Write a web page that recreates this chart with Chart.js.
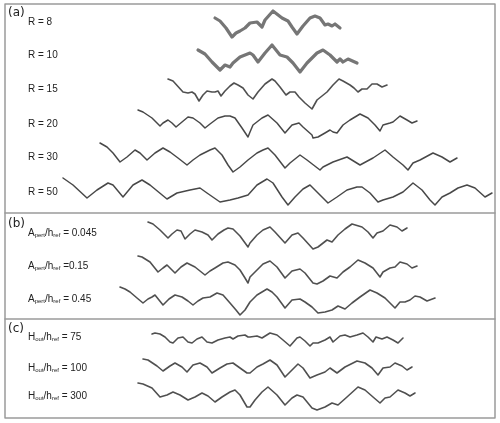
<!DOCTYPE html>
<html>
<head>
<meta charset="utf-8">
<script src="https://cdn.jsdelivr.net/npm/chart.js@4.4.1/dist/chart.umd.min.js"></script>
<style>
html,body{margin:0;padding:0;background:#fff;}
#wrap{width:500px;height:423px;position:relative;}
</style>
</head>
<body>
<div id="wrap"><canvas id="c"></canvas></div>
<script>
// ---- Profiles (x, y) in figure data space ----
const R8 = [[215,18],[220,21],[226,28],[232,37],[236,33],[240,31],[245,28],[250,23],[257,22],[262,27],[265,20],[273,11],[282,18],[288,21],[292,27],[297,34],[303,26],[310,18],[315,16],[320,18],[325,25],[328,24],[332,26],[335,24],[340,28]];
const R10 = [[198,50],[205,54],[212,62],[220,70],[225,65],[230,67],[233,63],[240,57],[250,53],[253,55],[258,62],[265,53],[272,45],[280,55],[287,57],[293,63],[300,72],[307,63],[317,53],[323,50],[330,55],[337,62],[340,59],[343,62],[348,59],[357,63]];
const R15 = [[168,79],[173,81],[183,92],[188,93],[192,92],[195,94],[199,101],[203,95],[207,91],[212,92],[215,92],[218,91],[221,96],[225,91],[230,86],[234,83],[238,85],[243,88],[248,95],[253,99],[258,92],[265,84],[272,79],[275,81],[280,87],[286,95],[290,92],[295,92],[299,97],[305,103],[312,109],[317,100],[322,96],[327,92],[333,85],[339,79],[343,81],[350,85],[354,88],[358,92],[362,89],[367,89],[372,84],[377,84],[382,87],[387,85]];
const R20 = [[138,110],[143,112],[152,118],[160,126],[163,123],[168,120],[172,123],[176,127],[182,122],[188,117],[193,118],[200,123],[205,128],[210,124],[218,118],[225,116],[230,116],[235,118],[242,128],[248,137],[250,132],[253,125],[262,118],[268,115],[277,123],[285,133],[292,125],[299,123],[303,127],[312,135],[313,138],[318,137],[325,133],[330,130],[333,132],[337,133],[343,125],[350,120],[360,114],[368,118],[375,125],[380,131],[383,125],[390,123],[393,122],[400,116],[407,120],[412,123],[417,121]];
const R30 = [[100,143],[107,147],[113,153],[120,162],[127,157],[135,150],[140,153],[147,160],[155,153],[163,148],[170,152],[178,158],[187,165],[193,160],[200,155],[210,150],[215,148],[222,155],[228,165],[233,172],[240,167],[248,160],[257,153],[263,150],[268,148],[275,155],[285,168],[290,163],[300,155],[307,160],[320,170],[323,167],[333,162],[347,157],[360,165],[373,158],[385,150],[393,157],[403,165],[408,170],[413,163],[420,160],[433,153],[442,157],[450,162],[457,158]];
const R50 = [[63,178],[73,185],[87,198],[97,190],[108,183],[113,185],[123,197],[133,185],[142,180],[150,185],[167,199],[177,193],[190,190],[200,188],[207,193],[220,202],[230,200],[238,198],[248,195],[257,185],[267,179],[273,183],[282,197],[288,205],[295,197],[303,189],[310,185],[318,193],[328,203],[337,197],[347,190],[357,187],[362,187],[370,193],[378,202],[383,200],[393,197],[403,192],[413,183],[422,190],[430,200],[435,205],[442,197],[450,193],[458,188],[467,185],[475,188],[485,197],[492,193]];
const B045 = [[148,222],[153,224],[160,230],[168,238],[172,234],[177,230],[181,231],[185,239],[190,234],[195,230],[202,232],[208,235],[212,240],[218,234],[224,230],[228,228],[233,229],[240,236],[248,247],[250,243],[257,235],[263,230],[270,227],[275,232],[285,243],[292,235],[298,233],[303,238],[313,249],[318,247],[327,240],[332,242],[338,235],[345,229],[352,224],[362,227],[368,232],[373,238],[377,233],[383,231],[390,225],[397,227],[402,231],[407,228]];
const B015 = [[138,256],[142,257],[150,262],[158,272],[163,268],[167,265],[171,269],[175,273],[181,267],[187,263],[195,267],[200,271],[205,275],[210,271],[215,268],[223,263],[228,262],[235,265],[240,270],[245,278],[248,283],[250,277],[257,270],[263,264],[270,261],[277,267],[285,278],[292,271],[300,269],[305,273],[313,283],[317,284],[323,281],[330,276],[337,278],[343,272],[350,267],[358,260],[365,263],[373,268],[380,277],[383,272],[390,268],[395,267],[400,262],[407,264],[412,268],[417,266]];
const B045b = [[120,287],[125,289],[130,292],[137,298],[143,303],[148,299],[152,297],[155,295],[159,300],[163,305],[169,299],[175,295],[182,297],[188,301],[193,305],[198,301],[203,298],[210,297],[217,293],[223,295],[230,303],[236,310],[240,315],[245,310],[250,302],[257,295],[267,289],[272,292],[277,297],[285,308],[292,300],[300,299],[305,302],[312,307],[318,313],[325,312],[332,310],[338,306],[345,309],[352,303],[360,297],[370,290],[377,293],[385,298],[390,303],[395,308],[400,302],[405,302],[410,300],[415,296],[420,297],[427,301],[435,298]];
const H75 = [[152,334],[155,333],[160,334],[165,337],[170,342],[173,343],[178,338],[183,337],[188,342],[192,343],[197,339],[202,337],[207,342],[212,343],[218,340],[225,338],[230,337],[233,339],[238,336],[245,335],[248,337],[250,337],[257,336],[262,338],[270,333],[277,335],[283,340],[290,346],[297,338],[300,337],[305,341],[310,346],[313,343],[318,343],[325,340],[330,337],[333,342],[340,336],[345,335],[350,337],[357,335],[363,333],[368,337],[373,342],[376,337],[382,339],[387,337],[393,340],[398,343],[403,338]];
const H100 = [[143,359],[148,360],[157,366],[163,371],[170,366],[175,363],[182,367],[187,372],[193,365],[200,363],[207,367],[212,373],[220,368],[227,364],[233,363],[240,368],[247,373],[250,373],[257,367],[263,364],[270,360],[277,365],[285,377],[292,370],[298,364],[303,368],[310,378],[317,375],[325,372],[330,368],[337,373],[345,367],[357,361],[365,363],[372,368],[378,375],[383,368],[390,367],[395,363],[402,366],[407,370],[412,367]];
const H300 = [[138,383],[143,384],[152,388],[160,397],[167,395],[173,392],[180,395],[188,400],[195,397],[202,393],[208,396],[215,402],[222,397],[230,392],[235,390],[240,395],[247,407],[250,407],[255,400],[262,392],[268,387],[277,395],[285,405],[292,398],[297,395],[303,397],[312,408],[317,410],[325,407],[332,403],[338,405],[347,397],[358,387],[365,390],[373,397],[380,403],[385,398],[390,397],[398,390],[405,393],[410,396],[415,393]];

// ---- Frame of the three panels ----
const frame = [[5,4],[495,4],[495,418],[5,418],[5,4]];
const divider1 = [[5,213],[495,213]];
const divider2 = [[5,319],[495,319]];

// ---- Labels ----
const panelLetters = [["(a)",8,12.5],["(b)",8,224],["(c)",8,329]];
const rLabels = [["R = 8",22],["R = 10",55],["R = 15",89.5],["R = 20",124],["R = 30",157.5],["R = 50",192]];
const bLabels = [["= 0.045",233],["=0.15",266],["= 0.45",299]];
const cLabels = [["= 75",337],["= 100",368],["= 300",396]];

const toPts = a => a.map(p => ({x:p[0], y:p[1]}));
function line(arr, color, width){
  return {data: toPts(arr), showLine:true, borderColor:color, borderWidth:width, pointRadius:0, fill:false, tension:0, clip:false, borderJoinStyle:'round', borderCapStyle:'round'};
}
const datasets = [
  line(frame,'#9a9a9a',1.5), line(divider1,'#9a9a9a',1.5), line(divider2,'#9a9a9a',1.5),
  line(R8,'#767676',3.2), line(R8,'#d4d4d4',1.0),
  line(R10,'#767676',3.2), line(R10,'#d4d4d4',1.0),
  line(R15,'#505050',1.6), line(R20,'#484848',1.5), line(R30,'#484848',1.5), line(R50,'#484848',1.5),
  line(B045,'#505050',1.6), line(B015,'#505050',1.6), line(B045b,'#505050',1.6),
  line(H75,'#505050',1.6), line(H100,'#505050',1.6), line(H300,'#505050',1.6)
];

const labelPlugin = {
  id:'labels',
  afterDatasetsDraw(chart){
    const ctx = chart.ctx, xs = chart.scales.x, ys = chart.scales.y;
    ctx.save();
    ctx.fillStyle = '#222';
    ctx.textBaseline = 'middle';
    ctx.font = '12px "DejaVu Sans"';
    panelLetters.forEach(l => ctx.fillText(l[0], xs.getPixelForValue(l[1]), ys.getPixelForValue(l[2])));
    ctx.font = '10px "Liberation Sans"';
    rLabels.forEach(l => ctx.fillText(l[0], xs.getPixelForValue(28), ys.getPixelForValue(l[1])));
    function sub(main, subtxt, tail, yv){
      let x = xs.getPixelForValue(28), y = ys.getPixelForValue(yv);
      const parts = [[main[0],false],[subtxt[0],true],["/"+main[1],false],[subtxt[1],true],[" "+tail,false]];
      parts.forEach(p => {
        ctx.font = p[1] ? '6px "Liberation Sans"' : '10px "Liberation Sans"';
        ctx.fillText(p[0], x, p[1] ? y+2.5 : y);
        x += ctx.measureText(p[0]).width;
      });
    }
    bLabels.forEach(l => sub(["A","h"],["pert","ref"],l[0],l[1]));
    cLabels.forEach(l => sub(["H","h"],["out","ref"],l[0],l[1]));
    ctx.restore();
  }
};

new Chart(document.getElementById('c'), {
  type:'scatter',
  data:{datasets},
  options:{
    responsive:true, maintainAspectRatio:false, animation:false,
    layout:{padding:0},
    plugins:{legend:{display:false}, tooltip:{enabled:false}},
    scales:{
      x:{type:'linear', min:0, max:500, display:false},
      y:{type:'linear', min:0, max:423, reverse:true, display:false}
    }
  },
  plugins:[labelPlugin]
});
</script>
</body>
</html>
